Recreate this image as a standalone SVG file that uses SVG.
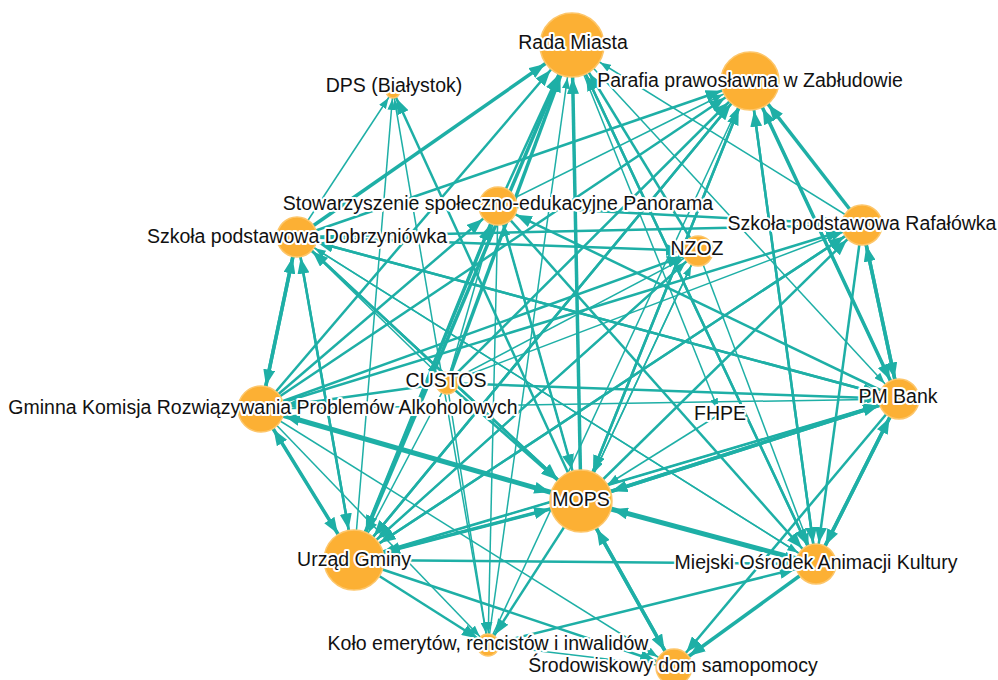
<svg xmlns="http://www.w3.org/2000/svg" width="998" height="680" viewBox="0 0 998 680">
<style>
.e line{stroke:#1eafa6;fill:none;stroke-linecap:butt}
.w1{stroke-width:1.5}.w2{stroke-width:2.5}.w3{stroke-width:3.5}.w4{stroke-width:5}
marker path{fill:#1eafa6}
.n circle{fill:#fcb034;stroke:#fdc66a;stroke-width:1.5}
.n text{font-family:"Liberation Sans",Arial,sans-serif;font-size:19.5px;fill:#111;text-anchor:middle;stroke:#fff;stroke-width:4;stroke-linejoin:round;paint-order:stroke}
</style>
<defs>
<marker id="aR" markerUnits="userSpaceOnUse" markerWidth="16" markerHeight="12" refX="49" refY="6" orient="auto"><path d="M0,0L16,6L0,12z"/></marker>
<marker id="sR" markerUnits="userSpaceOnUse" markerWidth="11" markerHeight="8" refX="44" refY="4" orient="auto"><path d="M0,0L11,4L0,8z"/></marker>
<marker id="aD" markerUnits="userSpaceOnUse" markerWidth="16" markerHeight="12" refX="24" refY="6" orient="auto"><path d="M0,0L16,6L0,12z"/></marker>
<marker id="sD" markerUnits="userSpaceOnUse" markerWidth="11" markerHeight="8" refX="19" refY="4" orient="auto"><path d="M0,0L11,4L0,8z"/></marker>
<marker id="aP" markerUnits="userSpaceOnUse" markerWidth="16" markerHeight="12" refX="46" refY="6" orient="auto"><path d="M0,0L16,6L0,12z"/></marker>
<marker id="sP" markerUnits="userSpaceOnUse" markerWidth="11" markerHeight="8" refX="41" refY="4" orient="auto"><path d="M0,0L11,4L0,8z"/></marker>
<marker id="aS" markerUnits="userSpaceOnUse" markerWidth="16" markerHeight="12" refX="36" refY="6" orient="auto"><path d="M0,0L16,6L0,12z"/></marker>
<marker id="sS" markerUnits="userSpaceOnUse" markerWidth="11" markerHeight="8" refX="31" refY="4" orient="auto"><path d="M0,0L11,4L0,8z"/></marker>
<marker id="aB" markerUnits="userSpaceOnUse" markerWidth="16" markerHeight="12" refX="37" refY="6" orient="auto"><path d="M0,0L16,6L0,12z"/></marker>
<marker id="sB" markerUnits="userSpaceOnUse" markerWidth="11" markerHeight="8" refX="32" refY="4" orient="auto"><path d="M0,0L11,4L0,8z"/></marker>
<marker id="aN" markerUnits="userSpaceOnUse" markerWidth="16" markerHeight="12" refX="32" refY="6" orient="auto"><path d="M0,0L16,6L0,12z"/></marker>
<marker id="sN" markerUnits="userSpaceOnUse" markerWidth="11" markerHeight="8" refX="27" refY="4" orient="auto"><path d="M0,0L11,4L0,8z"/></marker>
<marker id="aF" markerUnits="userSpaceOnUse" markerWidth="16" markerHeight="12" refX="37" refY="6" orient="auto"><path d="M0,0L16,6L0,12z"/></marker>
<marker id="sF" markerUnits="userSpaceOnUse" markerWidth="11" markerHeight="8" refX="32" refY="4" orient="auto"><path d="M0,0L11,4L0,8z"/></marker>
<marker id="sC" markerUnits="userSpaceOnUse" markerWidth="11" markerHeight="8" refX="23" refY="4" orient="auto"><path d="M0,0L11,4L0,8z"/></marker>
<marker id="aG" markerUnits="userSpaceOnUse" markerWidth="16" markerHeight="12" refX="40" refY="6" orient="auto"><path d="M0,0L16,6L0,12z"/></marker>
<marker id="aK" markerUnits="userSpaceOnUse" markerWidth="16" markerHeight="12" refX="37" refY="6" orient="auto"><path d="M0,0L16,6L0,12z"/></marker>
<marker id="sK" markerUnits="userSpaceOnUse" markerWidth="11" markerHeight="8" refX="32" refY="4" orient="auto"><path d="M0,0L11,4L0,8z"/></marker>
<marker id="sH" markerUnits="userSpaceOnUse" markerWidth="11" markerHeight="8" refX="16" refY="4" orient="auto"><path d="M0,0L11,4L0,8z"/></marker>
<marker id="aM" markerUnits="userSpaceOnUse" markerWidth="16" markerHeight="12" refX="48" refY="6" orient="auto"><path d="M0,0L16,6L0,12z"/></marker>
<marker id="sM" markerUnits="userSpaceOnUse" markerWidth="11" markerHeight="8" refX="43" refY="4" orient="auto"><path d="M0,0L11,4L0,8z"/></marker>
<marker id="aU" markerUnits="userSpaceOnUse" markerWidth="16" markerHeight="12" refX="47" refY="6" orient="auto"><path d="M0,0L16,6L0,12z"/></marker>
<marker id="sU" markerUnits="userSpaceOnUse" markerWidth="11" markerHeight="8" refX="42" refY="4" orient="auto"><path d="M0,0L11,4L0,8z"/></marker>
<marker id="aA" markerUnits="userSpaceOnUse" markerWidth="16" markerHeight="12" refX="37" refY="6" orient="auto"><path d="M0,0L16,6L0,12z"/></marker>
<marker id="sA" markerUnits="userSpaceOnUse" markerWidth="11" markerHeight="8" refX="32" refY="4" orient="auto"><path d="M0,0L11,4L0,8z"/></marker>
<marker id="aE" markerUnits="userSpaceOnUse" markerWidth="16" markerHeight="12" refX="28" refY="6" orient="auto"><path d="M0,0L16,6L0,12z"/></marker>
<marker id="sE" markerUnits="userSpaceOnUse" markerWidth="11" markerHeight="8" refX="23" refY="4" orient="auto"><path d="M0,0L11,4L0,8z"/></marker>
<marker id="aO" markerUnits="userSpaceOnUse" markerWidth="16" markerHeight="12" refX="35" refY="6" orient="auto"><path d="M0,0L16,6L0,12z"/></marker>
<marker id="sO" markerUnits="userSpaceOnUse" markerWidth="11" markerHeight="8" refX="30" refY="4" orient="auto"><path d="M0,0L11,4L0,8z"/></marker>
</defs>
<rect width="998" height="680" fill="#fff"/>
<g id="connectors" class="e">
<line class="w3" x1="297" y1="237" x2="572" y2="45" marker-end="url(#aR)"/>
<line class="w2" x1="261" y1="409" x2="572" y2="45" marker-end="url(#aR)"/>
<line class="w3" x1="354" y1="560" x2="572" y2="45" marker-end="url(#aR)"/>
<line class="w3" x1="447" y1="383" x2="572" y2="45" marker-end="url(#aR)"/>
<line class="w2" x1="498" y1="206" x2="572" y2="45" marker-end="url(#aR)"/>
<line class="w3" x1="581" y1="501" x2="572" y2="45" marker-end="url(#aR)"/>
<line class="w1" x1="488" y1="645" x2="572" y2="45" marker-end="url(#sR)"/>
<line class="w2" x1="698" y1="251" x2="572" y2="45" marker-end="url(#aR)"/>
<line class="w2" x1="816" y1="564" x2="572" y2="45" marker-end="url(#aR)"/>
<line class="w1" x1="862" y1="225" x2="572" y2="45" marker-end="url(#sR)"/>
<line class="w2" x1="297" y1="237" x2="750" y2="81" marker-end="url(#aP)"/>
<line class="w2" x1="261" y1="409" x2="750" y2="81" marker-end="url(#aP)"/>
<line class="w2" x1="354" y1="560" x2="750" y2="81" marker-end="url(#aP)"/>
<line class="w2" x1="447" y1="383" x2="750" y2="81" marker-end="url(#aP)"/>
<line class="w1" x1="498" y1="206" x2="750" y2="81" marker-end="url(#sP)"/>
<line class="w3" x1="862" y1="225" x2="750" y2="81" marker-end="url(#aP)"/>
<line class="w3" x1="899" y1="399" x2="750" y2="81" marker-end="url(#aP)"/>
<line class="w2" x1="816" y1="564" x2="750" y2="81" marker-end="url(#aP)"/>
<line class="w2" x1="581" y1="501" x2="750" y2="81" marker-end="url(#aP)"/>
<line class="w1" x1="488" y1="645" x2="750" y2="81" marker-end="url(#sP)"/>
<line class="w1" x1="297" y1="237" x2="393" y2="91" marker-end="url(#sD)"/>
<line class="w1" x1="354" y1="560" x2="393" y2="91" marker-end="url(#sD)"/>
<line class="w2" x1="581" y1="501" x2="393" y2="91" marker-end="url(#aD)"/>
<line class="w1" x1="488" y1="645" x2="393" y2="91" marker-end="url(#sD)"/>
<line class="w2" x1="261" y1="409" x2="498" y2="206" marker-end="url(#aS)"/>
<line class="w2" x1="354" y1="560" x2="498" y2="206" marker-end="url(#aS)"/>
<line class="w1" x1="447" y1="383" x2="498" y2="206" marker-end="url(#sS)"/>
<line class="w2" x1="899" y1="399" x2="498" y2="206" marker-end="url(#aS)"/>
<line class="w1" x1="581" y1="501" x2="498" y2="206" marker-end="url(#sS)"/>
<line class="w3" x1="261" y1="409" x2="297" y2="237" marker-end="url(#aB)"/>
<line class="w2" x1="354" y1="560" x2="297" y2="237" marker-end="url(#aB)"/>
<line class="w2" x1="581" y1="501" x2="297" y2="237" marker-end="url(#aB)"/>
<line class="w2" x1="899" y1="399" x2="297" y2="237" marker-end="url(#aB)"/>
<line class="w1" x1="816" y1="564" x2="297" y2="237" marker-end="url(#sB)"/>
<line class="w2" x1="297" y1="237" x2="698" y2="251" marker-end="url(#aN)"/>
<line class="w2" x1="261" y1="409" x2="698" y2="251" marker-end="url(#aN)"/>
<line class="w1" x1="354" y1="560" x2="698" y2="251" marker-end="url(#sN)"/>
<line class="w1" x1="447" y1="383" x2="698" y2="251" marker-end="url(#sN)"/>
<line class="w1" x1="581" y1="501" x2="698" y2="251" marker-end="url(#sN)"/>
<line class="w2" x1="297" y1="237" x2="862" y2="225" marker-end="url(#aF)"/>
<line class="w2" x1="498" y1="206" x2="862" y2="225" marker-end="url(#aF)"/>
<line class="w2" x1="261" y1="409" x2="862" y2="225" marker-end="url(#aF)"/>
<line class="w2" x1="354" y1="560" x2="862" y2="225" marker-end="url(#aF)"/>
<line class="w2" x1="581" y1="501" x2="862" y2="225" marker-end="url(#aF)"/>
<line class="w3" x1="899" y1="399" x2="862" y2="225" marker-end="url(#aF)"/>
<line class="w1" x1="447" y1="383" x2="862" y2="225" marker-end="url(#sF)"/>
<line class="w1" x1="297" y1="237" x2="447" y2="383" marker-end="url(#sC)"/>
<line class="w3" x1="297" y1="237" x2="261" y2="409" marker-end="url(#aG)"/>
<line class="w2" x1="354" y1="560" x2="261" y2="409" marker-end="url(#aG)"/>
<line class="w2" x1="447" y1="383" x2="261" y2="409" marker-end="url(#aG)"/>
<line class="w2" x1="581" y1="501" x2="261" y2="409" marker-end="url(#aG)"/>
<line class="w1" x1="261" y1="409" x2="899" y2="399" marker-end="url(#sK)"/>
<line class="w2" x1="447" y1="383" x2="899" y2="399" marker-end="url(#aK)"/>
<line class="w2" x1="297" y1="237" x2="899" y2="399" marker-end="url(#aK)"/>
<line class="w3" x1="581" y1="501" x2="899" y2="399" marker-end="url(#aK)"/>
<line class="w2" x1="354" y1="560" x2="899" y2="399" marker-end="url(#aK)"/>
<line class="w3" x1="862" y1="225" x2="899" y2="399" marker-end="url(#aK)"/>
<line class="w3" x1="816" y1="564" x2="899" y2="399" marker-end="url(#aK)"/>
<line class="w2" x1="750" y1="81" x2="899" y2="399" marker-end="url(#aK)"/>
<line class="w1" x1="572" y1="45" x2="899" y2="399" marker-end="url(#sK)"/>
<line class="w1" x1="572" y1="45" x2="720" y2="414" marker-end="url(#sH)"/>
<line class="w4" x1="261" y1="409" x2="581" y2="501" marker-end="url(#aM)"/>
<line class="w2" x1="297" y1="237" x2="581" y2="501" marker-end="url(#aM)"/>
<line class="w2" x1="447" y1="383" x2="581" y2="501" marker-end="url(#aM)"/>
<line class="w2" x1="498" y1="206" x2="581" y2="501" marker-end="url(#aM)"/>
<line class="w3" x1="354" y1="560" x2="581" y2="501" marker-end="url(#aM)"/>
<line class="w3" x1="899" y1="399" x2="581" y2="501" marker-end="url(#aM)"/>
<line class="w4" x1="816" y1="564" x2="581" y2="501" marker-end="url(#aM)"/>
<line class="w3" x1="674" y1="667" x2="581" y2="501" marker-end="url(#aM)"/>
<line class="w1" x1="720" y1="414" x2="581" y2="501" marker-end="url(#sM)"/>
<line class="w1" x1="698" y1="251" x2="581" y2="501" marker-end="url(#sM)"/>
<line class="w2" x1="750" y1="81" x2="581" y2="501" marker-end="url(#aM)"/>
<line class="w3" x1="261" y1="409" x2="354" y2="560" marker-end="url(#aU)"/>
<line class="w2" x1="297" y1="237" x2="354" y2="560" marker-end="url(#aU)"/>
<line class="w3" x1="498" y1="206" x2="354" y2="560" marker-end="url(#aU)"/>
<line class="w1" x1="447" y1="383" x2="354" y2="560" marker-end="url(#sU)"/>
<line class="w2" x1="581" y1="501" x2="354" y2="560" marker-end="url(#aU)"/>
<line class="w2" x1="750" y1="81" x2="354" y2="560" marker-end="url(#aU)"/>
<line class="w2" x1="862" y1="225" x2="354" y2="560" marker-end="url(#aU)"/>
<line class="w2" x1="698" y1="251" x2="354" y2="560" marker-end="url(#aU)"/>
<line class="w1" x1="899" y1="399" x2="354" y2="560" marker-end="url(#sU)"/>
<line class="w2" x1="354" y1="560" x2="816" y2="564" marker-end="url(#aA)"/>
<line class="w2" x1="488" y1="645" x2="816" y2="564" marker-end="url(#aA)"/>
<line class="w1" x1="581" y1="501" x2="816" y2="564" marker-end="url(#sA)"/>
<line class="w3" x1="899" y1="399" x2="816" y2="564" marker-end="url(#aA)"/>
<line class="w2" x1="862" y1="225" x2="816" y2="564" marker-end="url(#aA)"/>
<line class="w2" x1="750" y1="81" x2="816" y2="564" marker-end="url(#aA)"/>
<line class="w2" x1="572" y1="45" x2="816" y2="564" marker-end="url(#aA)"/>
<line class="w2" x1="498" y1="206" x2="816" y2="564" marker-end="url(#aA)"/>
<line class="w1" x1="698" y1="251" x2="816" y2="564" marker-end="url(#sA)"/>
<line class="w1" x1="297" y1="237" x2="816" y2="564" marker-end="url(#sA)"/>
<line class="w2" x1="354" y1="560" x2="488" y2="645" marker-end="url(#aE)"/>
<line class="w2" x1="581" y1="501" x2="488" y2="645" marker-end="url(#aE)"/>
<line class="w1" x1="498" y1="206" x2="488" y2="645" marker-end="url(#sE)"/>
<line class="w1" x1="447" y1="383" x2="488" y2="645" marker-end="url(#sE)"/>
<line class="w1" x1="261" y1="409" x2="488" y2="645" marker-end="url(#sE)"/>
<line class="w2" x1="354" y1="560" x2="674" y2="667" marker-end="url(#aO)"/>
<line class="w3" x1="581" y1="501" x2="674" y2="667" marker-end="url(#aO)"/>
<line class="w3" x1="816" y1="564" x2="674" y2="667" marker-end="url(#aO)"/>
<line class="w2" x1="899" y1="399" x2="674" y2="667" marker-end="url(#aO)"/>
<line class="w1" x1="488" y1="645" x2="674" y2="667" marker-end="url(#sO)"/>
<line class="w1" x1="261" y1="409" x2="674" y2="667" marker-end="url(#sO)"/>
</g>
<g id="node-rada" class="n"><circle cx="572" cy="45" r="32"/><text x="573" y="49">Rada Miasta</text></g>
<g id="node-dps" class="n"><circle cx="393" cy="91" r="7"/><text x="394" y="92">DPS (Białystok)</text></g>
<g id="node-parafia" class="n"><circle cx="750" cy="81" r="29"/><text x="750" y="87">Parafia prawosławna w Zabłudowie</text></g>
<g id="node-stowarzyszenie" class="n"><circle cx="498" cy="206" r="19"/><text x="498" y="210">Stowarzyszenie społeczno-edukacyjne Panorama</text></g>
<g id="node-dobrzyniowka" class="n"><circle cx="297" cy="237" r="20"/><text x="297" y="243">Szkoła podstawowa Dobrzyniówka</text></g>
<g id="node-nzoz" class="n"><circle cx="698" cy="251" r="15"/><text x="697" y="255">NZOZ</text></g>
<g id="node-rafalowka" class="n"><circle cx="862" cy="225" r="20"/><text x="862" y="230">Szkoła podstawowa Rafałówka</text></g>
<g id="node-custos" class="n"><circle cx="447" cy="383" r="11"/><text x="446" y="387">CUSTOS</text></g>
<g id="node-gminna" class="n"><circle cx="261" cy="409" r="23"/><text x="263" y="414">Gminna Komisja Rozwiązywania Problemów Alkoholowych</text></g>
<g id="node-pmbank" class="n"><circle cx="899" cy="399" r="20"/><text x="898" y="403">PM Bank</text></g>
<g id="node-fhpe" class="n"><circle cx="720" cy="414" r="4"/><text x="720" y="420">FHPE</text></g>
<g id="node-mops" class="n"><circle cx="581" cy="501" r="31"/><text x="581" y="506">MOPS</text></g>
<g id="node-urzad" class="n"><circle cx="354" cy="560" r="30"/><text x="354" y="566">Urząd Gminy</text></g>
<g id="node-moak" class="n"><circle cx="816" cy="564" r="20"/><text x="816" y="569">Miejski Ośrodek Animacji Kultury</text></g>
<g id="node-kolo" class="n"><circle cx="488" cy="645" r="11"/><text x="488" y="650">Koło emerytów, rencistów i inwalidów</text></g>
<g id="node-srodowiskowy" class="n"><circle cx="674" cy="667" r="18"/><text x="673" y="672">Środowiskowy dom samopomocy</text></g>
</svg>
